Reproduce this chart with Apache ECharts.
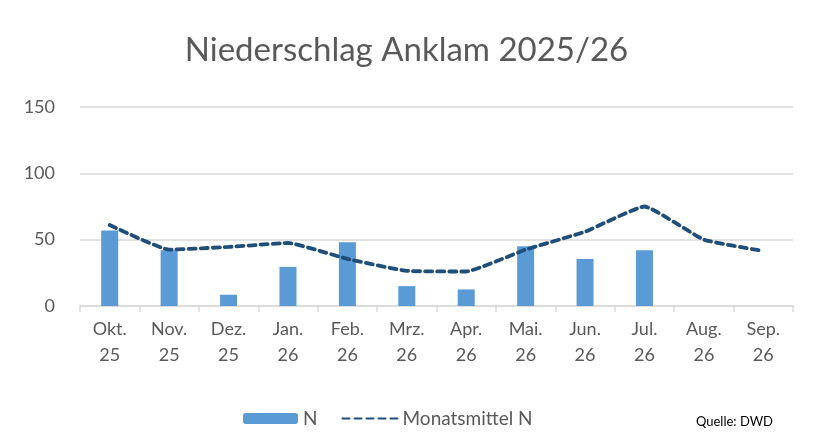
<!DOCTYPE html>
<html>
<head>
<meta charset="utf-8">
<script src="https://cdn.jsdelivr.net/npm/echarts@6/dist/echarts.min.js"></script>
<style>
  html, body { margin: 0; padding: 0; background: #fff; }
  #chart { width: 813px; height: 444px; }
</style>
</head>
<body>
<div id="chart"></div>
<script>
// Monate (zweizeilig beschriftet)
var months = ['Okt.\n25', 'Nov.\n25', 'Dez.\n25', 'Jan.\n26', 'Feb.\n26', 'Mrz.\n26',
              'Apr.\n26', 'Mai.\n26', 'Jun.\n26', 'Jul.\n26', 'Aug.\n26', 'Sep.\n26'];
// Niederschlag N in mm (ab Aug. noch keine Werte)
var niederschlag = [57, 42, 8.5, 29.5, 48, 15, 12.5, 45, 35.5, 42, null, null];
// langjaehriges Monatsmittel
var monatsmittel = [61, 42.5, 44.5, 47.5, 35.5, 26.5, 26, 42.5, 56, 75, 50, 41.5];
var yTicks = [0, 50, 100, 150];

var fontFam = 'Lato, "Liberation Sans", sans-serif';
var grau = '#595959';

var chart = echarts.init(document.getElementById('chart'));
var option = {
  animation: false,
  title: {
    text: 'Niederschlag Anklam 2025/26',
    left: 'center',
    top: 29,
    textStyle: { fontFamily: fontFam, fontSize: 33, fontWeight: 'normal', color: grau }
  },
  legend: {
    bottom: 11,
    left: 238,
    itemWidth: 55,
    itemHeight: 11,
    itemGap: 24,
    textStyle: { fontFamily: fontFam, fontSize: 19, color: grau },
    data: [
      { name: 'N' },
      { name: 'Monatsmittel N', itemStyle: { opacity: 0 } }
    ]
  },
  graphic: [{
    type: 'text',
    right: 40,
    bottom: 16,
    style: { text: 'Quelle: DWD', fontFamily: fontFam, fontSize: 13, fill: '#000' }
  }],
  grid: { left: 80, right: 20, top: 107, bottom: 138 },
  xAxis: {
    type: 'category',
    data: months,
    axisLine: { lineStyle: { color: '#d9d9d9', width: 1.5 } },
    axisTick: { show: true, length: 6, lineStyle: { color: '#d9d9d9', width: 1.5 } },
    axisLabel: { fontFamily: fontFam, fontSize: 18, color: grau, lineHeight: 26, margin: 10 }
  },
  yAxis: {
    type: 'value',
    min: yTicks[0],
    max: yTicks[yTicks.length - 1],
    interval: 50,
    axisLine: { show: false },
    axisTick: { show: false },
    axisLabel: { fontFamily: fontFam, fontSize: 18, color: grau, margin: 25 },
    splitLine: { lineStyle: { color: '#d9d9d9', width: 1.5 } }
  },
  series: [
    {
      name: 'N',
      type: 'bar',
      data: niederschlag,
      barWidth: 17,
      itemStyle: { color: '#5b9bd5' }
    },
    {
      name: 'Monatsmittel N',
      type: 'line',
      data: monatsmittel,
      smooth: 0.12,
      symbol: 'none',
      lineStyle: { color: '#1f4e79', width: 3.8, type: [7, 5], cap: 'round' },
      itemStyle: { color: '#1f4e79' }
    }
  ]
};
chart.setOption(option);
</script>
</body>
</html>
